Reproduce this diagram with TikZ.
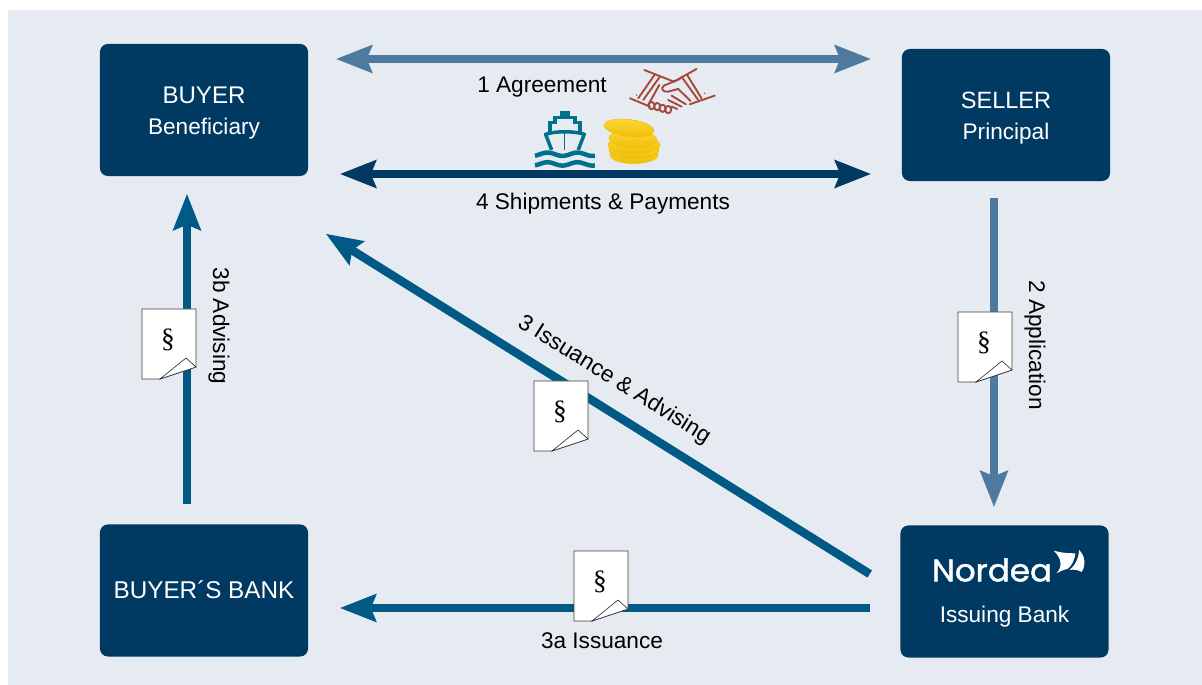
\documentclass[tikz,border=0pt]{standalone}
\usepackage{fontspec}
\setmainfont{Liberation Sans}
\newfontfamily\logofont{Poppins}[FakeBold=1.4]
\newfontfamily\signfont{Liberation Serif}
\usepackage{tikz}
\usetikzlibrary{arrows.meta}

\definecolor{panelbg}{HTML}{E6EBF2}
\definecolor{navy}{HTML}{003A63}
\definecolor{steel}{HTML}{4E7AA0}
\definecolor{teal}{HTML}{005A85}
\definecolor{shipblue}{HTML}{00708F}
\definecolor{shakered}{HTML}{A6483C}
\definecolor{coinlight}{HTML}{FFD633}
\definecolor{coindark}{HTML}{EFBE08}

\begin{document}
\begin{tikzpicture}[
  x=0.01cm, y=-0.01cm,
  >={Stealth[length=.36cm, width=.27cm, inset=.05cm]},
  box/.style={fill=navy, rounded corners=.08cm, minimum width=2.08cm, minimum height=1.32cm, inner sep=0pt, align=center, text=white},
  link/.style={line width=.085cm},
  lbl/.style={font=\fontsize{6.43}{7.5}\selectfont, inner sep=0pt, text=black},
  head/.style={font=\fontsize{6.9}{8}\selectfont},
  sub/.style={font=\fontsize{6.43}{7.5}\selectfont},
  shake/.style={draw=shakered, line width=.019cm, line cap=round, line join=round},
  coin/.style={top color=coinlight, bottom color=coindark, draw=coindark, line width=.005cm},
  docsheet/.pic={
    \draw[fill=white, draw=black!75, line width=.008cm] (0,0) -- (54,0) -- (54,58) -- (18,70) -- (0,70) -- cycle;
    \draw[fill=white, draw=black!85, line width=.006cm] (18,70) -- (44,49) -- (54,58) -- cycle;
    \node[inner sep=0pt, font=\signfont\fontsize{7.8}{9}\selectfont, text=black] (-sign) at (26,31) {\S};
  }
]
\useasboundingbox (0,0) rectangle (1202,685);
\fill[panelbg] (8,10) rectangle (1202,685);

% Boxes
\node[box] (buyer) at (204,110) {\rule{0pt}{.22cm}{\fontsize{6.85}{8}\selectfont BUYER}\\[-.11cm]{\fontsize{6.43}{7.5}\selectfont Beneficiary}};
\node[box] (seller) at (1006,115) {\rule{0pt}{.22cm}{\fontsize{6.7}{8}\selectfont SELLER}\\[-.11cm]{\fontsize{6.43}{7.5}\selectfont Principal}};
\node[box, head] (bank) at (204,590.5) {\raisebox{.02cm}{BUYER´S BANK}};
\node[box] (issuing) at (1004.5,591.5) {};
\node[inner sep=0pt, text=white, font=\logofont\fontsize{8.9}{10}\selectfont, xscale=1.04] (nordea) at (992,570) {Nordea};
\node[inner sep=0pt, text=white, sub] (issuinglbl) at (1004.5,616.5) {Issuing Bank};
\begin{scope}[shift={(900,520)}, x=.00333cm, y=-.00333cm]
  \fill[white] (462,92) .. controls (490,100) and (510,100) .. (527,100) .. controls (525,120) and (515,140) .. (503,147) .. controls (490,150) and (480,155) .. (470,160) .. controls (490,140) and (485,115) .. (462,92) -- cycle;
  \fill[white] (538,90) .. controls (555,105) and (560,135) .. (546,156) .. controls (535,150) and (522,148) .. (510,150) .. controls (528,135) and (538,110) .. (538,90) -- cycle;
\end{scope}

% Arrows
\draw[link, steel, <->] ([shift={(27,-51)}]buyer.east) -- ([shift={(-30,-56)}]seller.west);
\draw[link, navy, <->] ([shift={(31,64)}]buyer.east) -- ([shift={(-30,59)}]seller.west);
\draw[link, steel, ->] ([shift={(-12,16)}]seller.south) -- ([shift={(-10.5,-17.5)}]issuing.north);
\draw[link, teal, ->] ([shift={(-30,-17.5)}]issuing.west) -- ([shift={(17,57)}]buyer.south east);
\draw[link, teal, ->] ([shift={(-30,16.5)}]issuing.west) -- ([shift={(31,17.5)}]bank.east);
\draw[link, teal, ->] ([shift={(-17,-20)}]bank.north) -- ([shift={(-17,17)}]buyer.south);

% Labels
\node[lbl] (agreement) at (542,87) {1 Agreement};
\node[lbl] (shipments) at (603,204) {4 Shipments \& Payments};
\node[lbl, rotate=-90] (advising) at (219,326) {3b Advising};
\node[lbl, rotate=-90] (application) at (1035,345) {2 Application};
\node[lbl, rotate=-32] (issuance) at (614,380) {3 Issuance \& Advising};
\node[lbl] (issuancea) at (602,641) {3a Issuance};

% Documents
\pic (docA) at (142,309) {docsheet};
\pic (docB) at (534,381) {docsheet};
\pic (docC) at (958,312) {docsheet};
\pic (docD) at (574,551) {docsheet};

% Ship
\begin{scope}[shift={(525,105)}, x=.00333cm, y=-.00333cm]
  \fill[shipblue] (106,18) rectangle (134,40);
  \draw[shipblue, line width=.033cm, line join=miter] (75,82) -- (75,52) -- (90,52) -- (90,38) -- (150,38) -- (150,52) -- (165,52) -- (165,82);
  \draw[shipblue, line width=.035cm, line join=round] (80,135) -- (62,88) .. controls (90,78) and (150,78) .. (178,88) -- (160,135);
  \draw[shipblue, line width=.01cm] (120,78) -- (120,135);
  \foreach \wavey in {148,177}
    \draw[shipblue, line width=.045cm] plot[domain=30:210, samples=61] (\x,{\wavey+5*sin(4*\x)});
\end{scope}

% Coins
\foreach \coinx/\coiny/\coinrx/\coinrot in {634/155/24/0, 634/150/25/0, 634/145/26/0, 633/139/24/-3, 629/128/25/-7}
  \draw[coin, rotate around={\coinrot:(\coinx,\coiny)}] (\coinx,\coiny) ellipse [x radius=\coinrx, y radius=8.5];

% Handshake
\begin{scope}[shift={(600,65)}, x=.00333cm, y=-.00333cm]
  \draw[shake] (133,15) -- (222,50);
  \draw[shake] (90,100) -- (150,125);
  \draw[shake] (165,28) -- (115,100);
  \draw[shake] (180,35) -- (130,105);
  \draw[shake] (290,12) -- (222,50);
  \draw[shake] (345,92) -- (270,118);
  \draw[shake] (245,35) -- (295,105);
  \draw[shake] (262,30) -- (305,100);
  \draw[shake] (240,42) -- (192,62) .. controls (180,72) and (190,82) .. (205,80) -- (235,72) -- (272,108);
  \draw[shake] (215,92) -- (258,118);
  \draw[shake] (205,105) -- (245,125);
  \draw[shake] (215,125) -- (232,132);
  \draw[shake] (178,60) -- (145,120);
  \foreach \fingerx/\fingery in {155/122, 172/125, 188/130, 205/134}
    \draw[shake] (\fingerx,\fingery) ellipse [x radius=9, y radius=11];
  \fill[shakered] (110,90) circle (2.5);
  \fill[shakered] (315,85) circle (2.5);
\end{scope}
\end{tikzpicture}
\end{document}
